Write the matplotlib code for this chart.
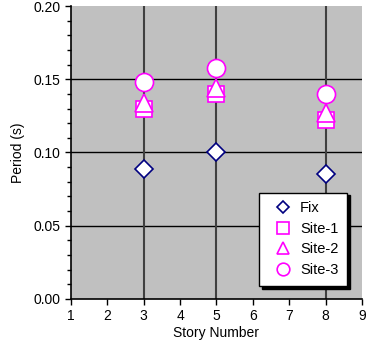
import matplotlib.pyplot as plt
from matplotlib.ticker import MultipleLocator

stories = [3, 5, 8]
fix = [0.089, 0.100, 0.085]
site1 = [0.130, 0.140, 0.122]
site2 = [0.134, 0.144, 0.127]
site3 = [0.148, 0.158, 0.140]

plt.rcParams['font.family'] = ['Liberation Sans', 'DejaVu Sans']

fig = plt.figure(figsize=(3.75, 3.55), dpi=100)
ax = fig.add_axes([0.189, 0.158, 0.776, 0.825])
ax.set_facecolor('#c0c0c0')

# horizontal grid
for yv in [0.05, 0.10, 0.15]:
    ax.axhline(yv, color='black', lw=1, zorder=1)
# vertical lines at each story
for s in stories:
    ax.axvline(s, color='#404040', lw=1.5, zorder=1)

mag = '#ff00ff'
ax.plot(stories, fix, ls='none', marker='D', ms=9, mfc='white', mec='#000080', mew=1.2, label='Fix', zorder=3)
ax.plot(stories, site1, ls='none', marker='s', ms=12, mfc='white', mec=mag, mew=1.2, label='Site-1', zorder=3)
ax.plot(stories, site2, ls='none', marker='^', ms=13, mfc='white', mec=mag, mew=1.2, label='Site-2', zorder=4)
ax.plot(stories, site3, ls='none', marker='o', ms=13, mfc='white', mec=mag, mew=1.2, label='Site-3', zorder=5)

ax.set_xlim(1, 9)
ax.set_ylim(0, 0.20)
ax.xaxis.set_major_locator(MultipleLocator(1))
ax.yaxis.set_major_locator(MultipleLocator(0.05))
ax.yaxis.set_minor_locator(MultipleLocator(0.01))
ax.yaxis.set_major_formatter(plt.FormatStrFormatter('%.2f'))
ax.tick_params(axis='both', direction='out', length=4, width=1, labelsize=10)
ax.tick_params(axis='y', which='minor', length=3, width=1)
for sp in ['top', 'right']:
    ax.spines[sp].set_visible(False)
for sp in ['left', 'bottom']:
    ax.spines[sp].set_linewidth(1.2)

ax.set_xlabel('Story Number', fontsize=10, labelpad=2)
ax.set_ylabel('Period (s)', fontsize=10, labelpad=6)

leg = ax.legend(loc='lower right', bbox_to_anchor=(0.95, 0.045), fancybox=False, shadow={'color': 'black', 'alpha': 1},
                edgecolor='black', framealpha=1, markerscale=0.7, fontsize=10.5,
                handlelength=2.0, handletextpad=0.2, borderpad=0.6, labelspacing=0.45,
                borderaxespad=0)
leg.get_frame().set_linewidth(1)

fig.savefig('out.png', dpi=100)
